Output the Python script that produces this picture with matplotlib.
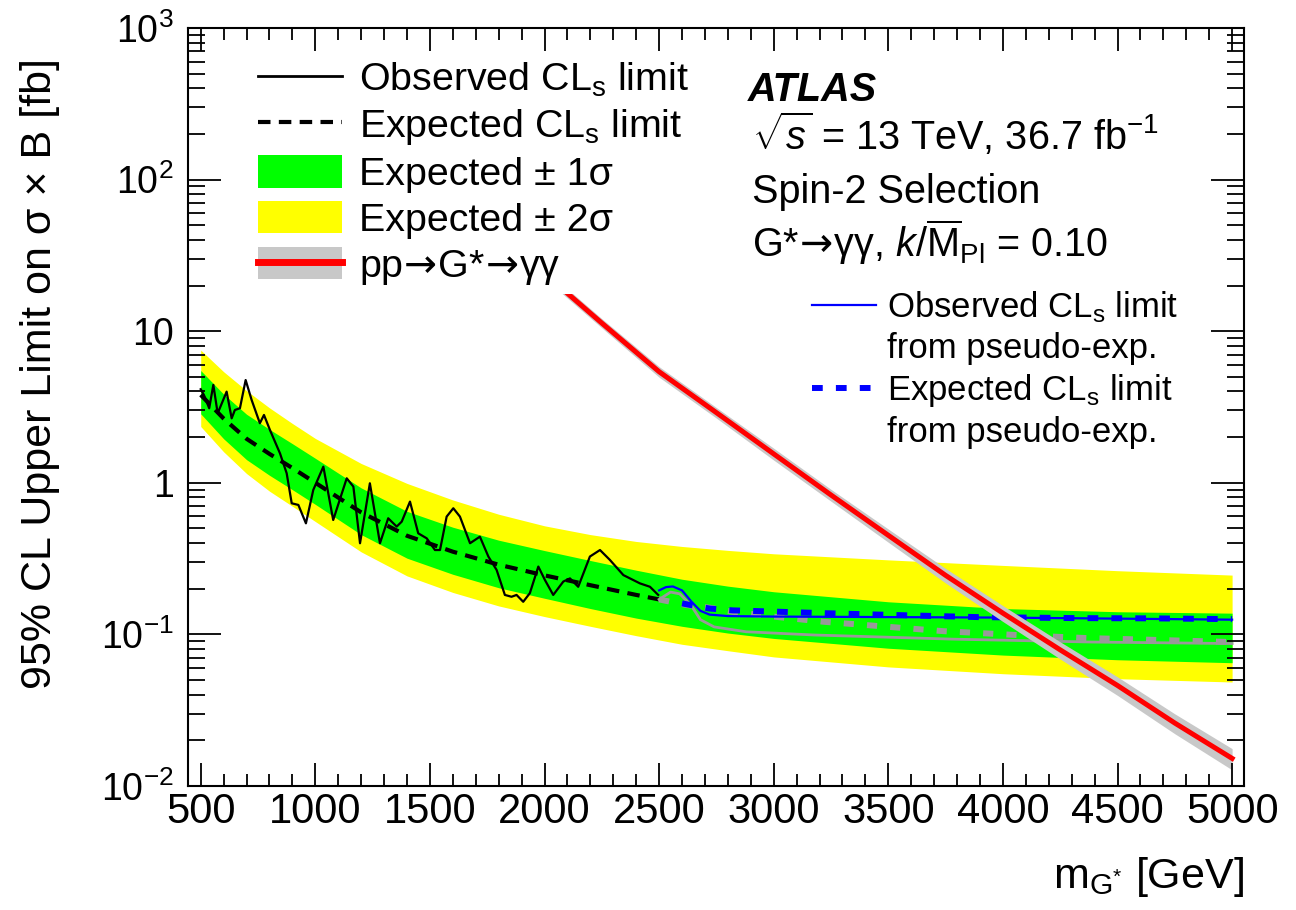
import matplotlib
matplotlib.use('Agg')
import matplotlib.pyplot as plt
from matplotlib.lines import Line2D
from matplotlib.patches import Patch
from matplotlib.ticker import MultipleLocator, LogLocator, NullFormatter

plt.rcParams['font.family'] = ['Liberation Sans', 'DejaVu Sans']
plt.rcParams['mathtext.fontset'] = 'custom'
plt.rcParams['mathtext.rm'] = 'Liberation Sans'
plt.rcParams['mathtext.it'] = 'Liberation Sans:italic'
plt.rcParams['mathtext.bf'] = 'Liberation Sans:bold'
plt.rcParams['mathtext.sf'] = 'DejaVu Sans'   # only used for the long arrows

# observed CLs limit (black solid), GeV / fb
obs_mass = [500, 514, 537, 555, 574, 613, 635, 649, 671, 696, 722, 758, 776, 802, 846,
            875, 897, 926, 959, 991, 1035, 1078, 1137, 1166, 1195, 1238, 1282, 1318, 1355,
            1377, 1413, 1449, 1486, 1522, 1544, 1573, 1602, 1631, 1675, 1718, 1755, 1791,
            1827, 1856, 1878, 1907, 1936, 1973, 2002, 2038, 2082, 2111, 2147, 2198, 2242,
            2285, 2344, 2416, 2460, 2496]
obs_limit = [4.14, 3.79, 3.10, 4.42, 2.87, 3.99, 2.66, 3.02, 3.10, 4.76, 3.52, 2.47, 2.80,
             2.23, 1.56, 1.155, 0.732, 0.714, 0.540, 0.896, 1.277, 0.568, 1.07, 0.943, 0.399,
             0.992, 0.399, 0.583, 0.514, 0.554, 0.751, 0.464, 0.430, 0.360, 0.360, 0.598,
             0.679, 0.598, 0.399, 0.441, 0.326, 0.266, 0.182, 0.177, 0.182, 0.164, 0.187,
             0.280, 0.228, 0.182, 0.223, 0.234, 0.206, 0.326, 0.360, 0.310, 0.246, 0.217,
             0.206, 0.182]

# expected CLs limit (black dashed)
exp_mass = [500, 600, 700, 800, 900, 1000, 1200, 1400, 1600, 1800, 2000, 2200, 2400, 2500]
exp_limit = [3.8, 2.65, 1.95, 1.55, 1.25, 1.0, 0.638, 0.447, 0.351, 0.288, 0.245, 0.211,
             0.182, 0.17]

# +-1 sigma and +-2 sigma bands
band_mass = [500, 600, 700, 800, 900, 1000, 1200, 1400, 1600, 1800, 2000, 2200, 2400, 2600,
             2800, 3000, 3500, 4000, 4500, 5000]
green_hi = [5.5, 3.84, 2.83, 2.25, 1.81, 1.45, 0.925, 0.648, 0.509, 0.418, 0.357, 0.307,
            0.265, 0.231, 0.208, 0.191, 0.164, 0.148, 0.141, 0.138]
green_lo = [2.85, 1.95, 1.42, 1.12, 0.9, 0.72, 0.455, 0.318, 0.249, 0.203, 0.173, 0.148,
            0.128, 0.113, 0.102, 0.094, 0.081, 0.073, 0.068, 0.065]
yellow_hi = [7.5, 5.4, 4.05, 3.12, 2.46, 1.96, 1.34, 0.99, 0.77, 0.62, 0.52, 0.455, 0.41,
             0.38, 0.358, 0.34, 0.31, 0.285, 0.263, 0.246]
yellow_lo = [2.35, 1.6, 1.15, 0.88, 0.70, 0.555, 0.35, 0.243, 0.189, 0.154, 0.131, 0.113,
             0.098, 0.086, 0.078, 0.071, 0.061, 0.055, 0.051, 0.0485]

# pseudo-experiment limits (blue)
pe_obs_mass = [2500, 2530, 2560, 2600, 2640, 2680, 2720, 2800, 3000, 3500, 4000, 4500, 5000]
pe_obs_limit = [0.195, 0.205, 0.207, 0.195, 0.165, 0.143, 0.135, 0.132, 0.131, 0.130, 0.129,
                0.127, 0.125]
pe_exp_mass = [2600, 2720, 2820, 3020, 3220, 3540, 3890, 4320, 4660, 5000]
pe_exp_limit = [0.16, 0.148, 0.144, 0.141, 0.138, 0.134, 0.130, 0.128, 0.1275, 0.126]

# asymptotic limits above 2.5 TeV (grey)
asy_obs_mass = [2500, 2550, 2590, 2640, 2680, 2740, 2880, 3180, 3780, 4385, 5000]
asy_obs_limit = [0.17, 0.19, 0.185, 0.155, 0.125, 0.112, 0.104, 0.099, 0.093, 0.089, 0.087]
asy_exp_mass = [2500, 2620, 2720, 2820, 3020, 3220, 3440, 3740, 4060, 4360, 4660, 5000]
asy_exp_limit = [0.17, 0.156, 0.15, 0.141, 0.130, 0.121, 0.114, 0.105, 0.099, 0.0946, 0.092,
                 0.089]

# theory pp -> G* -> yy and its relative uncertainty
th_mass = [1000, 1250, 1500, 1750, 2000, 2250, 2500, 2750, 3000, 3250, 3500, 3750, 4000,
           4250, 4500, 4750, 5000]
th_xsec = [1350, 380, 140, 58, 24, 11.3, 5.4, 2.9, 1.55, 0.83, 0.45, 0.245, 0.138, 0.079,
           0.046, 0.026, 0.0152]
th_unc = [0.06, 0.06, 0.06, 0.07, 0.07, 0.07, 0.08, 0.08, 0.09, 0.09, 0.10, 0.11, 0.12,
          0.13, 0.14, 0.15, 0.16]

th_lo = [v * (1 - u) for v, u in zip(th_xsec, th_unc)]
th_hi = [v * (1 + u) for v, u in zip(th_xsec, th_unc)]

GREEN = '#00ff00'
YELLOW = '#ffff00'
GREY_BAND = '#c8c8c8'
ARROW = r'$\mathsf{\!\rightarrow\!}$'

fig = plt.figure(figsize=(12.96, 9.10), dpi=100)
ax = fig.add_axes([0.1448, 0.1363, 0.8151, 0.8330])

ax.fill_between(band_mass, yellow_lo, yellow_hi, color=YELLOW, lw=0, zorder=1)
ax.fill_between(band_mass, green_lo, green_hi, color=GREEN, lw=0, zorder=1.1)

ax.plot(exp_mass, exp_limit, color='black', lw=3, dashes=(3, 2), zorder=2)
ax.plot(obs_mass, obs_limit, color='black', lw=1.6, zorder=2.1)

ax.plot(asy_exp_mass, asy_exp_limit, color='#999999', lw=4.3, dashes=(1.7, 2.2), zorder=2)
ax.plot(asy_obs_mass, asy_obs_limit, color='#999999', lw=2, zorder=2)
ax.plot(pe_exp_mass, pe_exp_limit, color='blue', lw=4.3, dashes=(1.8, 2.2), zorder=2.2)
ax.plot(pe_obs_mass, pe_obs_limit, color='blue', lw=1.6, zorder=2.2)

ax.fill_between(th_mass, th_lo, th_hi, color=GREY_BAND, lw=0, zorder=3)
ax.plot(th_mass, th_xsec, color='red', lw=3.6, zorder=3.1)

ax.set_yscale('log')
ax.set_xlim(443, 5052)
ax.set_ylim(1e-2, 1e3)

ax.xaxis.set_major_locator(MultipleLocator(500))
ax.xaxis.set_minor_locator(MultipleLocator(100))
ax.set_yticks([1e-2, 1e-1, 1, 10, 1e2, 1e3])
ax.set_yticklabels([r'$10^{-2}$', r'$10^{-1}$', '1', '10', r'$10^{2}$', r'$10^{3}$'])
ax.yaxis.set_minor_locator(LogLocator(base=10, subs=range(2, 10)))
ax.yaxis.set_minor_formatter(NullFormatter())

ax.tick_params(which='both', direction='in', top=True, right=True, width=1.3)
ax.tick_params(axis='x', which='major', length=16.5, labelsize=30, pad=4)
ax.tick_params(axis='x', which='minor', length=8.5)
ax.tick_params(axis='y', which='major', length=24, labelsize=27, pad=10)
ax.tick_params(axis='y', which='minor', length=12)
for sp in ax.spines.values():
    sp.set_linewidth(1.5)
    sp.set_zorder(10)
ax.xaxis.set_zorder(10)
ax.yaxis.set_zorder(10)

ax.set_ylabel('95% CL Upper Limit on σ × B [fb]', fontsize=31)
ax.yaxis.set_label_coords(-0.121, 0.544)
ax.set_xlabel(r'm$_{\mathrm{G}^{*}}$ [GeV]', fontsize=31, loc='right')
ax.xaxis.set_label_coords(1.0, -0.091)

ax.text(0.5304, 0.9037, 'ATLAS', transform=ax.transAxes, fontsize=28.5,
        fontweight='bold', style='italic', va='baseline')
ax.text(0.534, 0.839, r'$\sqrt{s}$ = 13 TeV, 36.7 fb$^{-1}$', transform=ax.transAxes,
        fontsize=28.5, va='baseline')
ax.text(0.534, 0.769, 'Spin-2 Selection', transform=ax.transAxes, fontsize=28.5,
        va='baseline')
ax.text(0.534, 0.698, 'G*' + ARROW + r'γγ, $k/\overline{\mathrm{M}}_{\mathrm{Pl}}$ = 0.10',
        transform=ax.transAxes, fontsize=28.5, va='baseline')

h1 = [Line2D([], [], color='black', lw=2),
      Line2D([], [], color='black', lw=3, dashes=(3, 2)),
      Patch(facecolor=GREEN, edgecolor='none'),
      Patch(facecolor=YELLOW, edgecolor='none'),
      (Patch(facecolor=GREY_BAND, edgecolor='none'), Line2D([], [], color='red', lw=5))]
l1 = [r'Observed CL$_\mathrm{s}$ limit', r'Expected CL$_\mathrm{s}$ limit',
      'Expected ± 1σ', 'Expected ± 2σ', 'pp' + ARROW + 'G*' + ARROW + 'γγ']
# empty title only adds white space above the first entry
leg1 = ax.legend(h1, l1, loc='upper left', bbox_to_anchor=(0.059, 1.0), fontsize=28.4,
                 title=' ', title_fontsize=14,
                 handlelength=2.13, handleheight=0.9, handletextpad=0.43,
                 labelspacing=0.2, borderpad=0.2, borderaxespad=0,
                 frameon=True, fancybox=False, facecolor='white', edgecolor='none',
                 framealpha=1)
ax.add_artist(leg1)

h2 = [Line2D([], [], color='blue', lw=1.6),
      Line2D([], [], color='none'),
      Line2D([], [], color='blue', lw=4.3, dashes=(1.8, 2.2)),
      Line2D([], [], color='none')]
l2 = [r'Observed CL$_\mathrm{s}$ limit', 'from pseudo-exp.',
      r'Expected CL$_\mathrm{s}$ limit', 'from pseudo-exp.']
ax.legend(h2, l2, loc='upper left', bbox_to_anchor=(0.591, 0.655), fontsize=25,
          handlelength=1.84, handletextpad=0.32, labelspacing=0.2, borderpad=0,
          borderaxespad=0, frameon=False)

fig.savefig('out.png', dpi=100)
